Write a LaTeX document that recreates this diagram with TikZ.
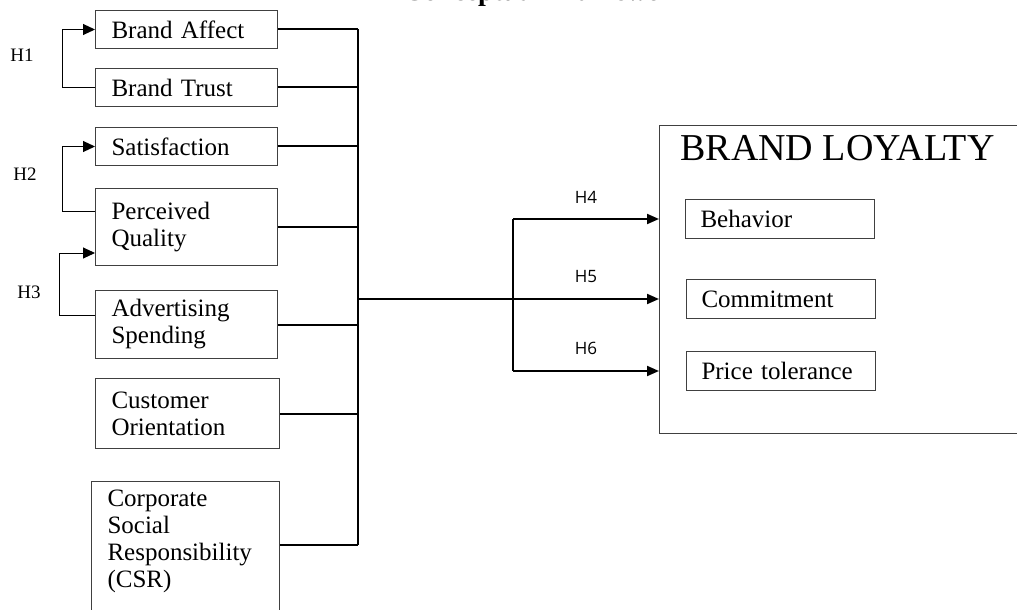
\documentclass[tikz,border=0pt]{standalone}
\usepackage{fontspec}
\setmainfont{Liberation Serif}
\newfontfamily\hfont{Open Sans}
\usetikzlibrary{arrows.meta}
\tikzset{factor/.style={draw=black!75,line width=0.5pt,anchor=north west,align=left,
        inner xsep=8pt,inner ysep=2pt,font=\fontsize{12.5}{13.5}\selectfont},
    link/.style={line width=1pt},
    arr/.style={line width=1pt,-{Triangle[length=6pt,width=5pt]}},
    fb/.style={line width=0.5pt,-{Triangle[length=6pt,width=5.5pt]}},
    hyp/.style={anchor=base west,inner sep=0pt,font=\fontsize{9.5}{10}\selectfont},
    lab/.style={above=7.5pt,inner sep=0pt,font=\hfont\fontsize{8.5}{9}\selectfont},
    }
\begin{document}
\begin{tikzpicture}[x=0.5pt,y=-0.5pt]
	\useasboundingbox (0,0) rectangle (1017,610);
	\clip (0,0) rectangle (1017,610);
	\node[anchor=base west,inner sep=0pt,font=\fontsize{14}{16}\selectfont\bfseries] (title) at (403,0.5) {Conceptual Framework};
	% antecedents
	\node[factor,text width=75pt,minimum height=19pt] (BA) at (95,10) {Brand Affect};
	\node[factor,text width=75pt,minimum height=19pt] (BT) at (95,68) {Brand Trust};
	\node[factor,text width=75pt,minimum height=19pt] (Sat) at (95,127) {Satisfaction};
	\node[factor,text width=75pt,minimum height=38.5pt] (PQ) at (95,188) {Perceived\\Quality};
	\node[factor,text width=75pt,minimum height=34pt] (AS) at (95,290) {Advertising\\Spending};
	\node[factor,text width=76pt,minimum height=35pt] (CO) at (95,378) {Customer\\Orientation};
	\node[factor,text width=78pt,inner ysep=4pt] (CSR) at (91,481) {Corporate\\Social\\Responsibility\\(CSR)\\[30pt]\mbox{}};
	\node[hyp] (H1) at (10,62) {H1};
	\node[hyp] (H2) at (13,180) {H2};
	\node[hyp] (H3) at (17,298) {H3};
	\draw[fb] (BT.west) -- ++(-33,0) |- (BA.west);
	\draw[fb] ([yshift=-11.5pt]PQ.north west) -- ++(-33,0) |- (Sat.west);
	\draw[fb] ([yshift=-12.5pt]AS.north west) -- ++(-36,0) |- ([yshift=6.5pt]PQ.south west);
	% brand loyalty
	\node[draw=black!75,line width=0.5pt,anchor=north west,minimum width=190pt,minimum height=154pt,inner sep=0pt] (LOY) at (659,125) {};
	\node[anchor=base west,inner sep=0pt,font=\fontsize{19}{21}\selectfont] (LOYt) at (680,161) {BRAND LOYALTY};
	\node[factor,text width=79.5pt,inner xsep=7.5pt,minimum height=19.5pt] (Beh) at (685,199) {Behavior};
	\node[factor,text width=79.5pt,inner xsep=7.5pt,minimum height=19.5pt] (Com) at (686,279) {Commitment};
	\node[factor,text width=79.5pt,inner xsep=7.5pt,minimum height=19.5pt] (Pri) at (686,351) {Price tolerance};
	% connectors
	\coordinate (bus) at (358,0);
	\coordinate (split) at (513,0);
	\coordinate (CSRout) at ([yshift=-32pt]CSR.north east);
	\foreach \n in {BA,BT,Sat,PQ,AS,CO}
		\draw[link] (\n.east) -- (\n.east -| bus);
	\draw[link] (CSRout) -- (CSRout -| bus);
	\draw[link] (BA.east -| bus) -- (CSRout -| bus);
	\draw[link] (bus |- Com) -- (split |- Com);
	\draw[link] (split |- Beh) -- (split |- Pri);
	\draw[arr] (split |- Beh) -- node[lab] (H4) {H4} (Beh -| LOY.west);
	\draw[arr] (split |- Com) -- node[lab] (H5) {H5} (Com -| LOY.west);
	\draw[arr] (split |- Pri) -- node[lab] (H6) {H6} (Pri -| LOY.west);
\end{tikzpicture}
\end{document}
